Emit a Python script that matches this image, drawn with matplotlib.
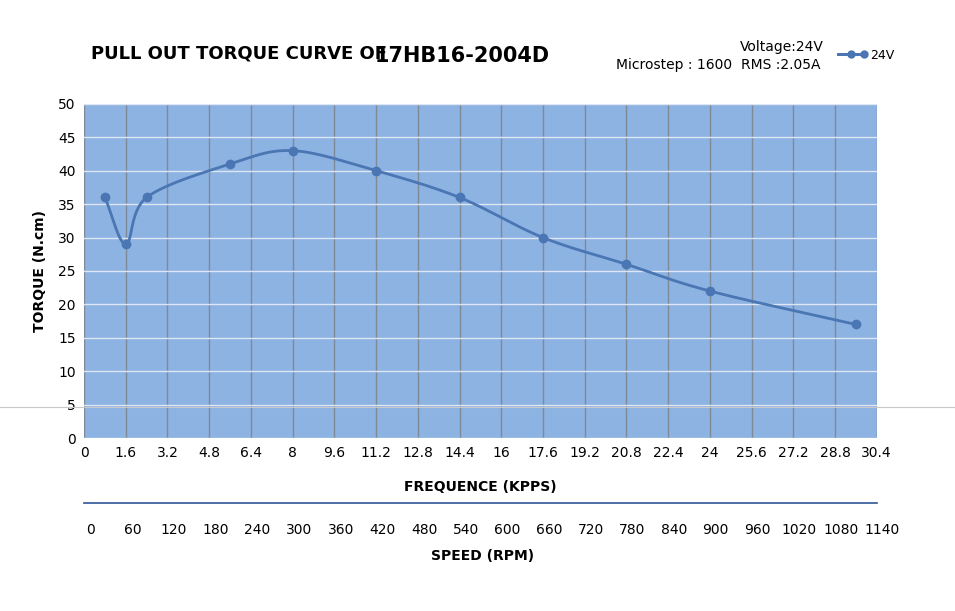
import numpy as np
import matplotlib.pyplot as plt
from matplotlib.lines import Line2D

# data
freq_kpps = [0.8, 1.6, 2.4, 5.6, 8.0, 11.2, 14.4, 17.6, 20.8, 24.0, 29.6]
torque_ncm = [36, 29, 36, 41, 43, 40, 36, 30, 26, 22, 17]
freq_ticks = [0, 1.6, 3.2, 4.8, 6.4, 8, 9.6, 11.2, 12.8, 14.4, 16, 17.6, 19.2, 20.8,
              22.4, 24, 25.6, 27.2, 28.8, 30.4]
speed_ticks = [0, 60, 120, 180, 240, 300, 360, 420, 480, 540, 600, 660, 720, 780,
               840, 900, 960, 1020, 1080, 1140]


def catmull_rom(x, y, n=30):
    # smooth line through points, like the spreadsheet "smoothed line"
    x = np.asarray(x, float)
    y = np.asarray(y, float)
    px = np.concatenate([[2 * x[0] - x[1]], x, [2 * x[-1] - x[-2]]])
    py = np.concatenate([[2 * y[0] - y[1]], y, [2 * y[-1] - y[-2]]])
    xs, ys = [], []
    t = np.linspace(0, 1, n)
    for i in range(1, len(px) - 2):
        for p, out in ((px, xs), (py, ys)):
            p0, p1, p2, p3 = p[i - 1], p[i], p[i + 1], p[i + 2]
            out.extend(0.5 * (2 * p1 + (-p0 + p2) * t + (2 * p0 - 5 * p1 + 4 * p2 - p3) * t ** 2
                              + (-p0 + 3 * p1 - 3 * p2 + p3) * t ** 3))
    return np.array(xs), np.array(ys)


line_col = '#4a76b4'
fig = plt.figure(figsize=(9.55, 6.11), dpi=100)
fig.patch.set_facecolor('white')
ax = fig.add_axes([0.088, 0.283, 0.830, 0.547])
ax.set_facecolor('#8db3e2')

sx, sy = catmull_rom(freq_kpps, torque_ncm)
ax.plot(sx, sy, color=line_col, lw=2)
ax.plot(freq_kpps, torque_ncm, 'o', color=line_col, ms=6)

ax.set_xlim(0, 30.4)
ax.set_ylim(0, 50)
ax.set_xticks(freq_ticks)
ax.set_xticklabels([f'{v:g}' for v in freq_ticks])
ax.set_yticks(range(0, 51, 5))
ax.grid(axis='x', color='#7f8a99', lw=1)
ax.grid(axis='y', color='#dde6f2', lw=1)
ax.set_axisbelow(True)
for s in ax.spines.values():
    s.set_visible(False)
ax.tick_params(length=0, labelsize=10, pad=6)
ax.set_ylabel('TORQUE (N.cm)', fontsize=10, fontweight='bold', labelpad=8)
ax.set_xlabel('FREQUENCE (KPPS)', fontsize=10, fontweight='bold', labelpad=14)

# speed axis below
ax2 = fig.add_axes([0.095, 0.176, 0.829, 0.001])
ax2.set_xlim(speed_ticks[0], speed_ticks[-1])
ax2.set_yticks([])
ax2.set_xticks(speed_ticks)
ax2.tick_params(length=0, labelsize=10, pad=14)
for s in ax2.spines.values():
    s.set_visible(False)
fig.add_artist(Line2D([0.088, 0.918], [0.177, 0.177], color='#2f5597', lw=1.2))
fig.text(0.505, 0.083, 'SPEED (RPM)', ha='center', fontsize=10, fontweight='bold')

fig.text(0.095, 0.905, 'PULL OUT TORQUE CURVE OF', fontsize=13, fontweight='bold')
fig.text(0.392, 0.898, '17HB16-2004D', fontsize=15, fontweight='bold')
fig.text(0.645, 0.887, 'Microstep : 1600', fontsize=10)
fig.text(0.775, 0.917, 'Voltage:24V', fontsize=10)
fig.text(0.776, 0.887, 'RMS :2.05A', fontsize=10)
fig.add_artist(Line2D([0.878, 0.905], [0.911, 0.911], color=line_col, lw=2,
                      marker='o', markevery=[1], ms=5))
fig.add_artist(Line2D([0.878, 0.8915, 0.905], [0.911, 0.911, 0.911], color=line_col, lw=2,
                      marker='o', markevery=[1], ms=5))
fig.text(0.911, 0.903, '24V', fontsize=9)

# faint scan line across the image
fig.add_artist(Line2D([0, 1], [0.334, 0.334], color='#c8c8c8', lw=0.8))

fig.savefig('out.png', dpi=100)
